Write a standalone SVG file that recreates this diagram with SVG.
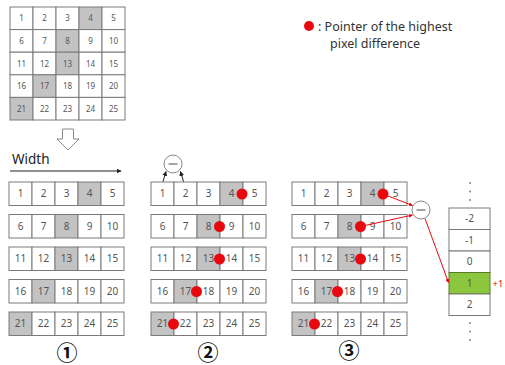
<svg xmlns="http://www.w3.org/2000/svg" width="505" height="365" viewBox="0 0 505 365">
<style>
.c{fill:#fff;stroke:#7a7a7a;stroke-width:1}
.g{fill:#c3c3c3;stroke:#7a7a7a;stroke-width:1}
.t{font-family:"Noto Sans","Liberation Sans",sans-serif;font-size:10px;fill:#555;text-anchor:middle}
.ts{font-family:"Noto Sans","Liberation Sans",sans-serif;font-size:8px;fill:#555;text-anchor:middle}
.dot{fill:#e8090f}
.lg{font-family:"Noto Sans","Liberation Sans",sans-serif;font-size:12.5px;fill:#333}
.num{font-family:"Noto Sans CJK KR","DejaVu Sans",sans-serif;font-size:21px;fill:#111;text-anchor:middle;font-weight:bold}
</style>
<defs>
<marker id="ab" viewBox="0 0 10 10" refX="9" refY="5" markerWidth="5" markerHeight="5" orient="auto"><path d="M0,0L10,5L0,10z" fill="#222"/></marker>
<marker id="ar" viewBox="0 0 10 10" refX="9" refY="5" markerWidth="4" markerHeight="4" orient="auto"><path d="M0,0L10,5L0,10z" fill="#e8090f"/></marker>
</defs>
<rect width="505" height="365" fill="#fff"/>

<g id="top-grid">
<rect class="c" x="10" y="7" width="23" height="22.6"/><text class="ts" x="21.5" y="21.3">1</text>
<rect class="c" x="33" y="7" width="23" height="22.6"/><text class="ts" x="44.5" y="21.3">2</text>
<rect class="c" x="56" y="7" width="23" height="22.6"/><text class="ts" x="67.5" y="21.3">3</text>
<rect class="g" x="79" y="7" width="23" height="22.6"/><text class="ts" x="90.5" y="21.3">4</text>
<rect class="c" x="102" y="7" width="23" height="22.6"/><text class="ts" x="113.5" y="21.3">5</text>
<rect class="c" x="10" y="29.6" width="23" height="22.6"/><text class="ts" x="21.5" y="43.9">6</text>
<rect class="c" x="33" y="29.6" width="23" height="22.6"/><text class="ts" x="44.5" y="43.9">7</text>
<rect class="g" x="56" y="29.6" width="23" height="22.6"/><text class="ts" x="67.5" y="43.9">8</text>
<rect class="c" x="79" y="29.6" width="23" height="22.6"/><text class="ts" x="90.5" y="43.9">9</text>
<rect class="c" x="102" y="29.6" width="23" height="22.6"/><text class="ts" x="113.5" y="43.9">10</text>
<rect class="c" x="10" y="52.2" width="23" height="22.6"/><text class="ts" x="21.5" y="66.5">11</text>
<rect class="c" x="33" y="52.2" width="23" height="22.6"/><text class="ts" x="44.5" y="66.5">12</text>
<rect class="g" x="56" y="52.2" width="23" height="22.6"/><text class="ts" x="67.5" y="66.5">13</text>
<rect class="c" x="79" y="52.2" width="23" height="22.6"/><text class="ts" x="90.5" y="66.5">14</text>
<rect class="c" x="102" y="52.2" width="23" height="22.6"/><text class="ts" x="113.5" y="66.5">15</text>
<rect class="c" x="10" y="74.8" width="23" height="22.6"/><text class="ts" x="21.5" y="89.1">16</text>
<rect class="g" x="33" y="74.8" width="23" height="22.6"/><text class="ts" x="44.5" y="89.1">17</text>
<rect class="c" x="56" y="74.8" width="23" height="22.6"/><text class="ts" x="67.5" y="89.1">18</text>
<rect class="c" x="79" y="74.8" width="23" height="22.6"/><text class="ts" x="90.5" y="89.1">19</text>
<rect class="c" x="102" y="74.8" width="23" height="22.6"/><text class="ts" x="113.5" y="89.1">20</text>
<rect class="g" x="10" y="97.4" width="23" height="22.6"/><text class="ts" x="21.5" y="111.7">21</text>
<rect class="c" x="33" y="97.4" width="23" height="22.6"/><text class="ts" x="44.5" y="111.7">22</text>
<rect class="c" x="56" y="97.4" width="23" height="22.6"/><text class="ts" x="67.5" y="111.7">23</text>
<rect class="c" x="79" y="97.4" width="23" height="22.6"/><text class="ts" x="90.5" y="111.7">24</text>
<rect class="c" x="102" y="97.4" width="23" height="22.6"/><text class="ts" x="113.5" y="111.7">25</text>
</g>

<g id="legend">
<circle class="dot" cx="309" cy="26" r="5"/>
<text class="lg" x="318" y="31">: Pointer of the highest</text>
<text class="lg" x="330" y="48">pixel difference</text>
</g>

<g id="down-arrow">
<path d="M62.5,129H73.5V139H79L68,150L57,139H62.5Z" fill="#fff" stroke="#888" stroke-width="1"/>
</g>

<g id="width-label">
<text x="12" y="164" font-family="Noto Sans,Liberation Sans,sans-serif" font-size="13.5" fill="#222">Width</text>
</g>

<g id="grid1">
<rect class="c" x="9" y="182" width="23" height="23.5"/><text class="t" x="20.5" y="197.3">1</text>
<rect class="c" x="32" y="182" width="23" height="23.5"/><text class="t" x="43.5" y="197.3">2</text>
<rect class="c" x="55" y="182" width="23" height="23.5"/><text class="t" x="66.5" y="197.3">3</text>
<rect class="g" x="78" y="182" width="23" height="23.5"/><text class="t" x="89.5" y="197.3">4</text>
<rect class="c" x="101" y="182" width="23" height="23.5"/><text class="t" x="112.5" y="197.3">5</text>
<rect class="c" x="9" y="214.5" width="23" height="23.5"/><text class="t" x="20.5" y="229.8">6</text>
<rect class="c" x="32" y="214.5" width="23" height="23.5"/><text class="t" x="43.5" y="229.8">7</text>
<rect class="g" x="55" y="214.5" width="23" height="23.5"/><text class="t" x="66.5" y="229.8">8</text>
<rect class="c" x="78" y="214.5" width="23" height="23.5"/><text class="t" x="89.5" y="229.8">9</text>
<rect class="c" x="101" y="214.5" width="23" height="23.5"/><text class="t" x="112.5" y="229.8">10</text>
<rect class="c" x="9" y="247" width="23" height="23.5"/><text class="t" x="20.5" y="262.3">11</text>
<rect class="c" x="32" y="247" width="23" height="23.5"/><text class="t" x="43.5" y="262.3">12</text>
<rect class="g" x="55" y="247" width="23" height="23.5"/><text class="t" x="66.5" y="262.3">13</text>
<rect class="c" x="78" y="247" width="23" height="23.5"/><text class="t" x="89.5" y="262.3">14</text>
<rect class="c" x="101" y="247" width="23" height="23.5"/><text class="t" x="112.5" y="262.3">15</text>
<rect class="c" x="9" y="279.5" width="23" height="23.5"/><text class="t" x="20.5" y="294.8">16</text>
<rect class="g" x="32" y="279.5" width="23" height="23.5"/><text class="t" x="43.5" y="294.8">17</text>
<rect class="c" x="55" y="279.5" width="23" height="23.5"/><text class="t" x="66.5" y="294.8">18</text>
<rect class="c" x="78" y="279.5" width="23" height="23.5"/><text class="t" x="89.5" y="294.8">19</text>
<rect class="c" x="101" y="279.5" width="23" height="23.5"/><text class="t" x="112.5" y="294.8">20</text>
<rect class="g" x="9" y="312" width="23" height="23.5"/><text class="t" x="20.5" y="327.3">21</text>
<rect class="c" x="32" y="312" width="23" height="23.5"/><text class="t" x="43.5" y="327.3">22</text>
<rect class="c" x="55" y="312" width="23" height="23.5"/><text class="t" x="66.5" y="327.3">23</text>
<rect class="c" x="78" y="312" width="23" height="23.5"/><text class="t" x="89.5" y="327.3">24</text>
<rect class="c" x="101" y="312" width="23" height="23.5"/><text class="t" x="112.5" y="327.3">25</text>
<text class="num" x="67" y="360">①</text>
</g>

<g id="grid2">
<rect class="c" x="151" y="182" width="23" height="23.5"/><text class="t" x="162.5" y="197.3">1</text>
<rect class="c" x="174" y="182" width="23" height="23.5"/><text class="t" x="185.5" y="197.3">2</text>
<rect class="c" x="197" y="182" width="23" height="23.5"/><text class="t" x="208.5" y="197.3">3</text>
<rect class="g" x="220" y="182" width="23" height="23.5"/><text class="t" x="231.5" y="197.3">4</text>
<rect class="c" x="243" y="182" width="23" height="23.5"/><text class="t" x="254.5" y="197.3">5</text>
<rect class="c" x="151" y="214.5" width="23" height="23.5"/><text class="t" x="162.5" y="229.8">6</text>
<rect class="c" x="174" y="214.5" width="23" height="23.5"/><text class="t" x="185.5" y="229.8">7</text>
<rect class="g" x="197" y="214.5" width="23" height="23.5"/><text class="t" x="208.5" y="229.8">8</text>
<rect class="c" x="220" y="214.5" width="23" height="23.5"/><text class="t" x="231.5" y="229.8">9</text>
<rect class="c" x="243" y="214.5" width="23" height="23.5"/><text class="t" x="254.5" y="229.8">10</text>
<rect class="c" x="151" y="247" width="23" height="23.5"/><text class="t" x="162.5" y="262.3">11</text>
<rect class="c" x="174" y="247" width="23" height="23.5"/><text class="t" x="185.5" y="262.3">12</text>
<rect class="g" x="197" y="247" width="23" height="23.5"/><text class="t" x="208.5" y="262.3">13</text>
<rect class="c" x="220" y="247" width="23" height="23.5"/><text class="t" x="231.5" y="262.3">14</text>
<rect class="c" x="243" y="247" width="23" height="23.5"/><text class="t" x="254.5" y="262.3">15</text>
<rect class="c" x="151" y="279.5" width="23" height="23.5"/><text class="t" x="162.5" y="294.8">16</text>
<rect class="g" x="174" y="279.5" width="23" height="23.5"/><text class="t" x="185.5" y="294.8">17</text>
<rect class="c" x="197" y="279.5" width="23" height="23.5"/><text class="t" x="208.5" y="294.8">18</text>
<rect class="c" x="220" y="279.5" width="23" height="23.5"/><text class="t" x="231.5" y="294.8">19</text>
<rect class="c" x="243" y="279.5" width="23" height="23.5"/><text class="t" x="254.5" y="294.8">20</text>
<rect class="g" x="151" y="312" width="23" height="23.5"/><text class="t" x="162.5" y="327.3">21</text>
<rect class="c" x="174" y="312" width="23" height="23.5"/><text class="t" x="185.5" y="327.3">22</text>
<rect class="c" x="197" y="312" width="23" height="23.5"/><text class="t" x="208.5" y="327.3">23</text>
<rect class="c" x="220" y="312" width="23" height="23.5"/><text class="t" x="231.5" y="327.3">24</text>
<rect class="c" x="243" y="312" width="23" height="23.5"/><text class="t" x="254.5" y="327.3">25</text>
<circle class="dot" cx="242" cy="194" r="5.5"/>
<circle class="dot" cx="219.5" cy="226.5" r="5.5"/>
<circle class="dot" cx="219.5" cy="259" r="5.5"/>
<circle class="dot" cx="196.5" cy="291.5" r="5.5"/>
<circle class="dot" cx="173.5" cy="324" r="5.5"/>
<text class="num" x="208" y="360">②</text>
</g>

<g id="minus2">
<circle cx="173" cy="164" r="9" fill="#fff" stroke="#888" stroke-width="1"/>
<line x1="168.5" y1="164" x2="177.5" y2="164" stroke="#666" stroke-width="1.2"/>
</g>

<g id="grid3">
<rect class="c" x="292" y="182" width="23" height="23.5"/><text class="t" x="303.5" y="197.3">1</text>
<rect class="c" x="315" y="182" width="23" height="23.5"/><text class="t" x="326.5" y="197.3">2</text>
<rect class="c" x="338" y="182" width="23" height="23.5"/><text class="t" x="349.5" y="197.3">3</text>
<rect class="g" x="361" y="182" width="23" height="23.5"/><text class="t" x="372.5" y="197.3">4</text>
<rect class="c" x="384" y="182" width="23" height="23.5"/><text class="t" x="395.5" y="197.3">5</text>
<rect class="c" x="292" y="214.5" width="23" height="23.5"/><text class="t" x="303.5" y="229.8">6</text>
<rect class="c" x="315" y="214.5" width="23" height="23.5"/><text class="t" x="326.5" y="229.8">7</text>
<rect class="g" x="338" y="214.5" width="23" height="23.5"/><text class="t" x="349.5" y="229.8">8</text>
<rect class="c" x="361" y="214.5" width="23" height="23.5"/><text class="t" x="372.5" y="229.8">9</text>
<rect class="c" x="384" y="214.5" width="23" height="23.5"/><text class="t" x="395.5" y="229.8">10</text>
<rect class="c" x="292" y="247" width="23" height="23.5"/><text class="t" x="303.5" y="262.3">11</text>
<rect class="c" x="315" y="247" width="23" height="23.5"/><text class="t" x="326.5" y="262.3">12</text>
<rect class="g" x="338" y="247" width="23" height="23.5"/><text class="t" x="349.5" y="262.3">13</text>
<rect class="c" x="361" y="247" width="23" height="23.5"/><text class="t" x="372.5" y="262.3">14</text>
<rect class="c" x="384" y="247" width="23" height="23.5"/><text class="t" x="395.5" y="262.3">15</text>
<rect class="c" x="292" y="279.5" width="23" height="23.5"/><text class="t" x="303.5" y="294.8">16</text>
<rect class="g" x="315" y="279.5" width="23" height="23.5"/><text class="t" x="326.5" y="294.8">17</text>
<rect class="c" x="338" y="279.5" width="23" height="23.5"/><text class="t" x="349.5" y="294.8">18</text>
<rect class="c" x="361" y="279.5" width="23" height="23.5"/><text class="t" x="372.5" y="294.8">19</text>
<rect class="c" x="384" y="279.5" width="23" height="23.5"/><text class="t" x="395.5" y="294.8">20</text>
<rect class="g" x="292" y="312" width="23" height="23.5"/><text class="t" x="303.5" y="327.3">21</text>
<rect class="c" x="315" y="312" width="23" height="23.5"/><text class="t" x="326.5" y="327.3">22</text>
<rect class="c" x="338" y="312" width="23" height="23.5"/><text class="t" x="349.5" y="327.3">23</text>
<rect class="c" x="361" y="312" width="23" height="23.5"/><text class="t" x="372.5" y="327.3">24</text>
<rect class="c" x="384" y="312" width="23" height="23.5"/><text class="t" x="395.5" y="327.3">25</text>
<circle class="dot" cx="383" cy="194" r="5.5"/>
<circle class="dot" cx="360.5" cy="226.5" r="5.5"/>
<circle class="dot" cx="360.5" cy="259" r="5.5"/>
<circle class="dot" cx="337.5" cy="291.5" r="5.5"/>
<circle class="dot" cx="314.5" cy="324" r="5.5"/>
<text class="num" x="349" y="358">③</text>
</g>

<g id="minus3">
<circle cx="421" cy="210" r="9" fill="#fff" stroke="#888" stroke-width="1"/>
<line x1="416.5" y1="210" x2="425.5" y2="210" stroke="#666" stroke-width="1.2"/>
</g>

<g id="diff-column">
<rect class="c" x="449" y="208" width="41" height="21.5"/><text class="t" x="469.5" y="222.3">-2</text>
<rect class="c" x="449" y="229.5" width="41" height="21.5"/><text class="t" x="469.5" y="243.8">-1</text>
<rect class="c" x="449" y="251" width="41" height="21.5"/><text class="t" x="469.5" y="265.3">0</text>
<rect x="449" y="272.5" width="41" height="21.5" fill="#8cc63f" stroke="#5a7a2a" stroke-width="1"/><text class="t" x="469.5" y="286.8" fill="#333">1</text>
<rect class="c" x="449" y="294" width="41" height="21.5"/><text class="t" x="469.5" y="308.3">2</text>
<circle cx="470" cy="183" r="0.9" fill="#777"/>
<circle cx="470" cy="191.5" r="0.9" fill="#777"/>
<circle cx="470" cy="200" r="0.9" fill="#777"/>
<circle cx="470" cy="323" r="0.9" fill="#777"/>
<circle cx="470" cy="331.5" r="0.9" fill="#777"/>
<circle cx="470" cy="340" r="0.9" fill="#777"/>
<text x="492.5" y="287" font-family="Noto Sans,Liberation Sans,sans-serif" font-size="9.5" fill="#e8090f">+1</text>
</g>

<g id="connectors">
<line x1="10" y1="171" x2="121" y2="171" stroke="#222" stroke-width="1" marker-end="url(#ab)"/>
<line x1="163" y1="181.5" x2="166" y2="171.5" stroke="#222" stroke-width="1" marker-end="url(#ab)"/>
<line x1="183.5" y1="181.5" x2="180.5" y2="171.5" stroke="#222" stroke-width="1" marker-end="url(#ab)"/>
<line x1="383" y1="194" x2="412.5" y2="205.5" stroke="#e8090f" stroke-width="1" marker-end="url(#ar)"/>
<line x1="360.5" y1="226.5" x2="412.5" y2="215" stroke="#e8090f" stroke-width="1" marker-end="url(#ar)"/>
<line x1="425" y1="218.5" x2="448.5" y2="282.5" stroke="#e8090f" stroke-width="1" marker-end="url(#ar)"/>
</g>
</svg>
